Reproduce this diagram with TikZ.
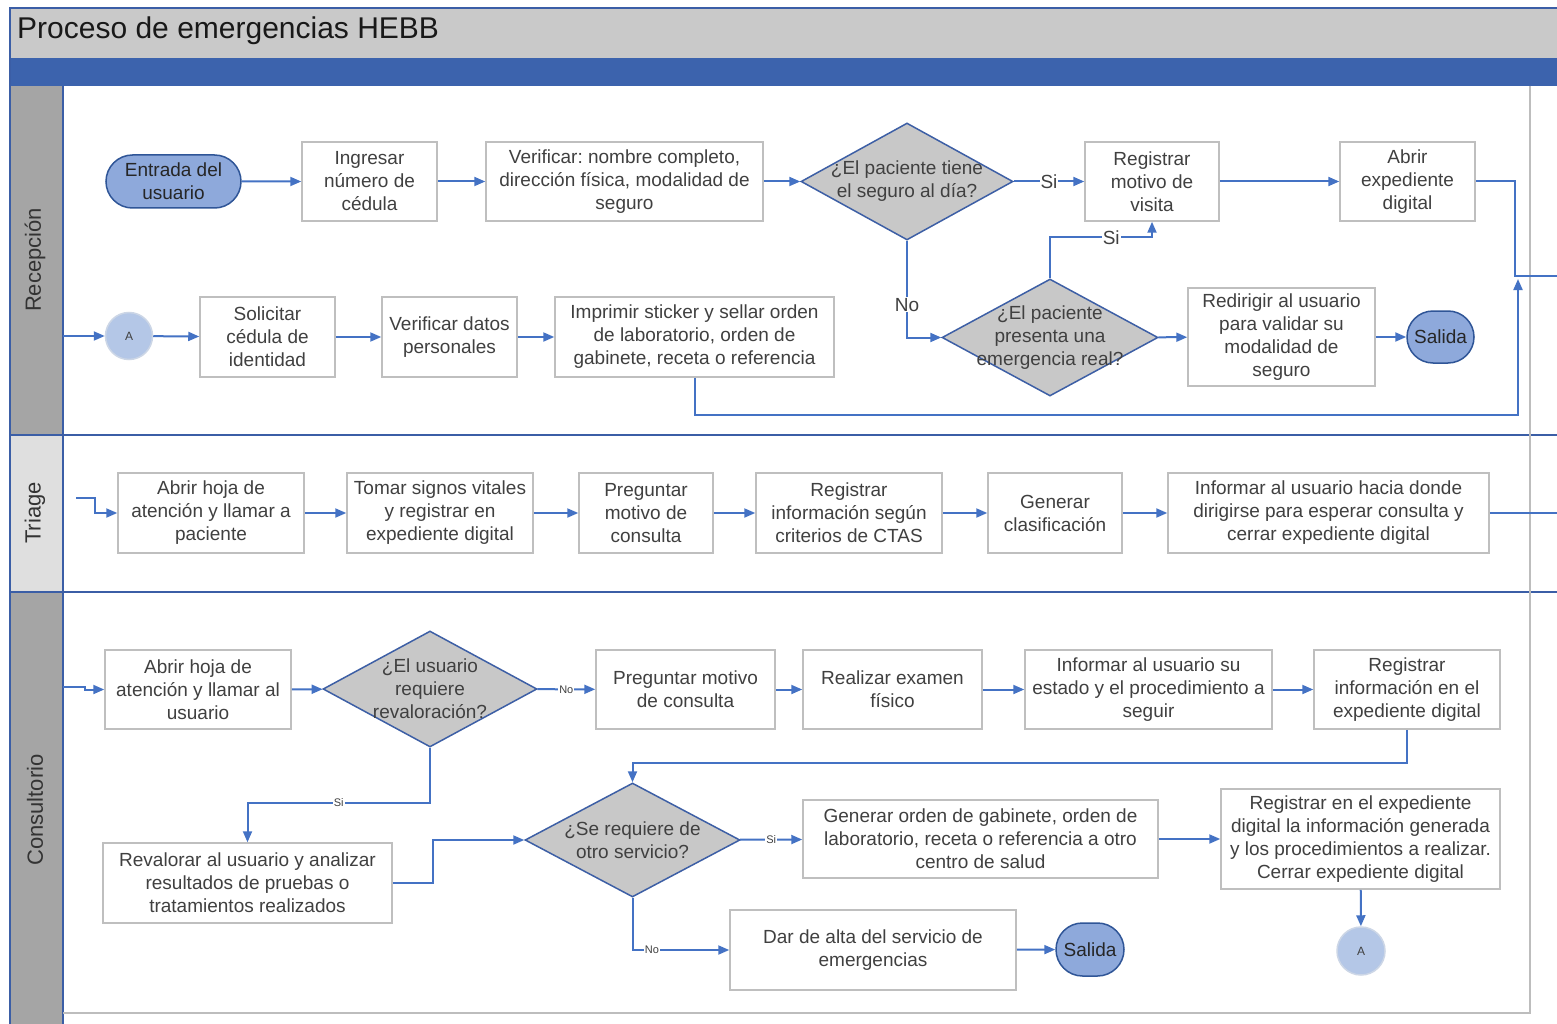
\documentclass[tikz,border=0pt]{standalone}
\usepackage{fontspec}
\setmainfont{Liberation Sans}
\usetikzlibrary{arrows.meta,shapes.geometric,shapes.misc,calc}
\frenchspacing

\definecolor{flowblue}{HTML}{4472C4}
\definecolor{laneblue}{HTML}{3B5EA6}
\definecolor{bandblue}{HTML}{3C63AD}
\definecolor{titlegray}{HTML}{C9C9C9}
\definecolor{lanedark}{HTML}{A5A5A5}
\definecolor{lanelight}{HTML}{DFDFDF}
\definecolor{boxgray}{HTML}{BFBFBF}
\definecolor{txtgray}{HTML}{404040}
\definecolor{decfill}{HTML}{C8C8C8}
\definecolor{decline}{HTML}{3D5FA5}
\definecolor{termfill}{HTML}{8EA9DB}
\definecolor{termline}{HTML}{2F5597}
\definecolor{conxfill}{HTML}{B4C7E7}
\definecolor{conxline}{HTML}{CCD6E6}
\definecolor{pagegray}{HTML}{BDBDBD}

\tikzset{
  stepbox/.style={draw=boxgray, line width=1.5pt, fill=white, align=center,
    text=txtgray, inner sep=0pt, font=\fontsize{19}{23}\selectfont},
  decision/.style={diamond, draw=decline, line width=1.5pt, fill=decfill, inner sep=0pt},
  dectext/.style={align=center, text=txtgray, inner sep=0pt, font=\fontsize{19}{23}\selectfont},
  terminal/.style={rounded rectangle, draw=termline, line width=1.5pt, fill=termfill,
    align=center, text=black!85, inner sep=0pt, font=\fontsize{19}{23}\selectfont},
  conx/.style={circle, draw=conxline, line width=1.5pt, fill=conxfill, inner sep=0pt,
    text=txtgray, font=\fontsize{12}{14}\selectfont},
  flow/.style={draw=flowblue, line width=2pt},
  arr/.style={flow, -{Triangle[length=11pt,width=9pt]}},
  lbl/.style={fill=white, inner sep=1pt, text=txtgray, font=\fontsize{19}{23}\selectfont},
  slbl/.style={fill=white, inner sep=1pt, text=txtgray, font=\fontsize{11}{13}\selectfont},
  lanetxt/.style={rotate=90, text=black!80, font=\fontsize{22}{26}\selectfont}
}

\begin{document}
\begin{tikzpicture}[x=1pt,y=-1pt]
\useasboundingbox (0,0) rectangle (1557,1024);
\fill[white] (0,0) rectangle (1557,1024);

% --- pool header and lanes ---
\fill[titlegray] (10,8) rectangle (1557,58);
\fill[bandblue] (10,58) rectangle (1557,86);
\fill[lanedark] (10,86) rectangle (63,435);
\fill[lanelight] (10,435) rectangle (63,592);
\fill[lanedark] (10,592) rectangle (63,1024);
\draw[laneblue, line width=1.5pt] (1557,8) -- (10,8) -- (10,1024);
\draw[laneblue, line width=1.5pt] (63,86) -- (63,1024);
\draw[laneblue, line width=1.5pt] (10,435) -- (1557,435);
\draw[laneblue, line width=1.5pt] (10,592) -- (1557,592);
\draw[pagegray, line width=2pt] (1530,86) -- (1530,1013) -- (63,1013);

\node[anchor=west, inner sep=0pt, text=black!90, font=\fontsize{30}{34}\selectfont] (title) at (17,31) {Proceso de emergencias HEBB};
\node[lanetxt] (lrec) at (35,260) {Recepción};
\node[lanetxt] (ltri) at (35,513) {Triage};
\node[lanetxt] (lcon) at (35,810) {Consultorio};

% --- Recepción ---
\node[terminal, minimum width=135pt, minimum height=53pt] (ent) at (173.5,181.5) {Entrada del\\usuario};
\node[stepbox, minimum width=135pt, minimum height=79pt] (ing) at (369.5,181.5) {Ingresar\\número de\\cédula};
\node[stepbox, minimum width=277pt, minimum height=79pt] (ver) at (624.5,181.5) {Verificar: nombre completo,\\dirección física, modalidad de\\seguro};
\node[decision, minimum width=212pt, minimum height=117pt] (d1) at (907,181.5) {};
\node[dectext] (d1t) at (d1) {¿El paciente tiene\\el seguro al día?};
\node[stepbox, minimum width=134pt, minimum height=79pt] (reg) at (1152,181.5) {Registrar\\motivo de\\visita};
\node[stepbox, minimum width=135pt, minimum height=79pt] (abr) at (1407.5,181.5) {Abrir\\expediente\\digital};

\node[conx, minimum size=47pt] (ca1) at (129,336) {A};
\node[stepbox, minimum width=135pt, minimum height=80pt] (sol) at (267.5,337) {Solicitar\\cédula de\\identidad};
\node[stepbox, minimum width=135pt, minimum height=80pt] (vdp) at (449.5,337) {Verificar datos\\personales};
\node[stepbox, minimum width=279pt, minimum height=80pt] (imp) at (694.5,337) {Imprimir sticker y sellar orden\\de laboratorio, orden de\\gabinete, receta o referencia};
\node[decision, minimum width=216pt, minimum height=117pt] (d2) at (1050,337.5) {};
\node[dectext] (d2t) at (d2) {¿El paciente\\presenta una\\emergencia real?};
\node[stepbox, minimum width=187pt, minimum height=98pt] (red) at (1281.5,337) {Redirigir al usuario\\para validar su\\modalidad de\\seguro};
\node[terminal, minimum width=67pt, minimum height=52pt] (sal1) at (1440.5,337) {Salida};

\coordinate (ina) at (63,336);
\coordinate (j1) at (1515,276);
\coordinate (out1) at (1557,276);
\coordinate (j2) at (1518,415);
\coordinate (j3) at (1518,279);

\draw[arr] (ent) -- (ing);
\draw[arr] (ing) -- (ver);
\draw[arr] (ver) -- (d1);
\draw[arr] (d1) -- node[lbl]{Si} (reg);
\draw[arr] (d1.south) |- node[lbl, pos=0.33]{No} (d2.west);
\draw[arr] (d2.north) -- ++(0,-41) -| node[lbl, pos=0.3]{Si} (reg.south);
\draw[arr] (d2) -- (red);
\draw[arr] (red) -- (sal1);
\draw[arr] (reg) -- (abr);
\draw[flow] (abr.east) -| (j1) -- (out1);
\draw[arr] (imp.south) |- (j2) -- (j3);
\draw[arr] (ina) -- (ca1);
\draw[arr] (ca1) -- (sol);
\draw[arr] (sol) -- (vdp);
\draw[arr] (vdp) -- (imp);

% --- Triage ---
\node[stepbox, minimum width=186pt, minimum height=80pt] (t1) at (211,513) {Abrir hoja de\\atención y llamar a\\paciente};
\node[stepbox, minimum width=186pt, minimum height=80pt] (t2) at (440,513) {Tomar signos vitales\\y registrar en\\expediente digital};
\node[stepbox, minimum width=134pt, minimum height=80pt] (t3) at (646,513) {Preguntar\\motivo de\\consulta};
\node[stepbox, minimum width=186pt, minimum height=80pt] (t4) at (849,513) {Registrar\\información según\\criterios de CTAS};
\node[stepbox, minimum width=134pt, minimum height=80pt] (t5) at (1055,513) {Generar\\clasificación};
\node[stepbox, minimum width=321pt, minimum height=80pt] (t6) at (1328.5,513) {Informar al usuario hacia donde\\dirigirse para esperar consulta y\\cerrar expediente digital};

\coordinate (intr) at (76,498);
\coordinate (outt) at (1557,513);

\draw[arr] (intr) -- ++(19,0) |- (t1.west);
\draw[arr] (t1) -- (t2);
\draw[arr] (t2) -- (t3);
\draw[arr] (t3) -- (t4);
\draw[arr] (t4) -- (t5);
\draw[arr] (t5) -- (t6);
\draw[flow] (t6.east) -- (outt);

% --- Consultorio ---
\node[stepbox, minimum width=186pt, minimum height=79pt] (c1) at (198,689.5) {Abrir hoja de\\atención y llamar al\\usuario};
\node[decision, minimum width=214pt, minimum height=116pt] (d3) at (430,689) {};
\node[dectext] (d3t) at (d3) {¿El usuario\\requiere\\revaloración?};
\node[stepbox, minimum width=179pt, minimum height=79pt] (c2) at (685.5,689.5) {Preguntar motivo\\de consulta};
\node[stepbox, minimum width=179pt, minimum height=79pt] (c3) at (892.5,689.5) {Realizar examen\\físico};
\node[stepbox, minimum width=247pt, minimum height=79pt] (c4) at (1148.5,689.5) {Informar al usuario su\\estado y el procedimiento a\\seguir};
\node[stepbox, minimum width=186pt, minimum height=79pt] (c5) at (1407,689.5) {Registrar\\información en el\\expediente digital};

\node[stepbox, minimum width=289pt, minimum height=80pt] (rev) at (247.5,883) {Revalorar al usuario y analizar\\resultados de pruebas o\\tratamientos realizados};
\node[decision, minimum width=215pt, minimum height=114pt] (d4) at (632.5,840) {};
\node[dectext] (d4t) at (d4) {¿Se requiere de\\otro servicio?};
\node[stepbox, minimum width=355pt, minimum height=78pt] (gen) at (980.5,839) {Generar orden de gabinete, orden de\\laboratorio, receta o referencia a otro\\centro de salud};
\node[stepbox, minimum width=279pt, minimum height=100pt] (reg2) at (1360.5,839) {Registrar en el expediente\\digital la información generada\\y los procedimientos a realizar.\\Cerrar expediente digital};
\node[conx, minimum size=48pt] (ca2) at (1361,951) {A};
\node[stepbox, minimum width=286pt, minimum height=80pt] (alta) at (873,950) {Dar de alta del servicio de\\emergencias};
\node[terminal, minimum width=68pt, minimum height=53pt] (sal2) at (1090,949.5) {Salida};

\coordinate (inc) at (63,687);

\draw[arr] (inc) -- ++(22,0) |- (c1.west);
\draw[arr] (c1) -- (d3);
\draw[arr] (d3) -- node[slbl]{No} (c2);
\draw[arr] (c2) -- (c3);
\draw[arr] (c3) -- (c4);
\draw[arr] (c4) -- (c5);
\draw[arr] (c5.south) -- ++(0,33) -| (d4.north);
\draw[arr] (d3.south) -- ++(0,55) -| node[slbl, pos=0.25]{Si} (rev.north);
\draw[arr] (rev.east) -- ++(40,0) |- (d4.west);
\draw[arr] (d4) -- node[slbl]{Si} (gen);
\draw[arr] (gen) -- (reg2);
\draw[arr] (reg2) -- (ca2);
\draw[arr] (d4.south) |- node[slbl, pos=0.6]{No} (alta.west);
\draw[arr] (alta) -- (sal2);
\end{tikzpicture}
\end{document}
